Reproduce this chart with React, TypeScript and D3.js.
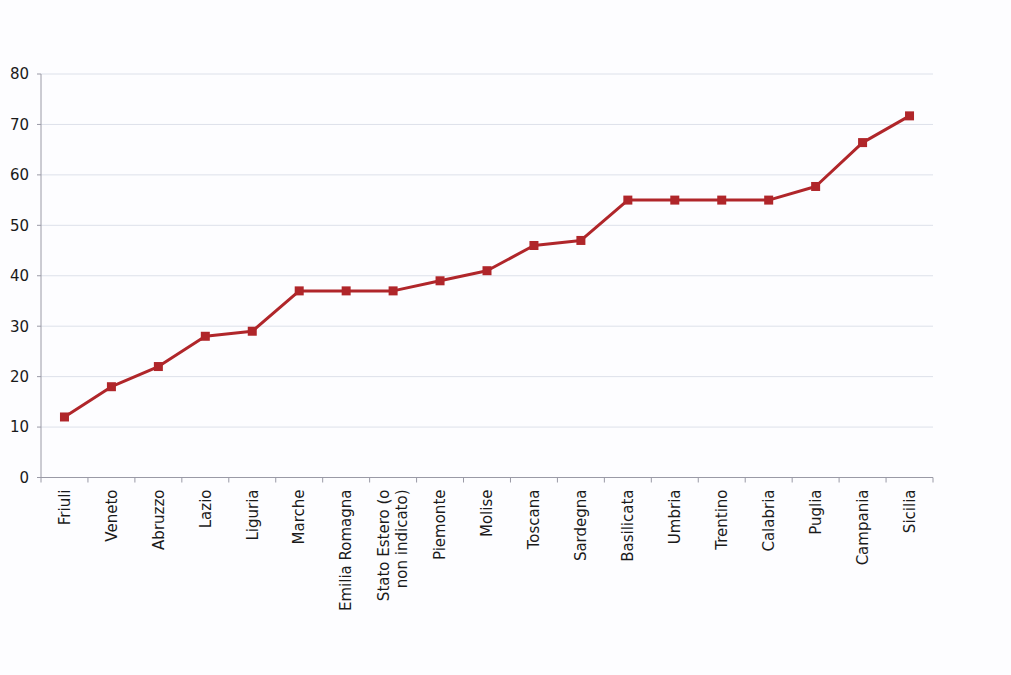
import React from "react";
import * as d3 from "d3";

const categories = [
  "Friuli", "Veneto", "Abruzzo", "Lazio", "Liguria", "Marche", "Emilia Romagna",
  "Stato Estero (o\nnon indicato)", "Piemonte", "Molise", "Toscana", "Sardegna",
  "Basilicata", "Umbria", "Trentino", "Calabria", "Puglia", "Campania", "Sicilia",
];
const values = [12, 18, 22, 28, 29, 37, 37, 37, 39, 41, 46, 47, 55, 55, 55, 55, 57.7, 66.4, 71.7];
const yTicks = [0, 10, 20, 30, 40, 50, 60, 70, 80];

export default function App() {
  const W = 1011, H = 675;
  const left = 41, right = 933, top = 74, bottom = 477.5;
  const x = d3.scaleBand<number>().domain(d3.range(categories.length)).range([left, right]);
  const y = d3.scaleLinear().domain([0, 80]).range([bottom, top]);
  const cx = (i: number) => (x(i) as number) + x.bandwidth() / 2;
  const line = d3.line<number>().x((_, i) => cx(i)).y((v) => y(v));
  const font = "'DejaVu Sans', Verdana, sans-serif";
  const boundaries = d3.range(categories.length + 1).map((k) => left + k * x.bandwidth());
  return (
    <svg width={W} height={H} style={{ position: "absolute", left: 0, top: 0, background: "#fff" }}>
      <rect width={W} height={H} fill="#fdfdff" />
      {yTicks.map((t) => (
        <g key={t}>
          {t > 0 && <line x1={left} x2={right} y1={y(t)} y2={y(t)} stroke="#dde1ea" strokeWidth={1} />}
          <line x1={left - 4} x2={left} y1={y(t)} y2={y(t)} stroke="#9a9aa6" />
          <text x={29} y={y(t)} dy="0.36em" textAnchor="end" fontFamily={font} fontSize={15} fill="#1a1a1a">{t}</text>
        </g>
      ))}
      <line x1={left} x2={left} y1={top} y2={bottom} stroke="#9a9aa6" />
      <line x1={left} x2={right} y1={bottom} y2={bottom} stroke="#9a9aa6" />
      {boundaries.map((b, k) => (
        <line key={k} x1={b} x2={b} y1={bottom} y2={bottom + 5} stroke="#9a9aa6" />
      ))}
      {categories.map((c, i) => {
        const lines = c.split("\n");
        const px = cx(i);
        const py = bottom + 12;
        return (
          <text key={i} transform={`translate(${px},${py}) rotate(-90)`} textAnchor="end" fontFamily={font} fontSize={15} fill="#1a1a1a">
            {lines.map((l, j) => (
              <tspan key={j} x={0} dy={j === 0 ? (lines.length === 1 ? "0.35em" : "-0.25em") : "1.2em"}>{l}</tspan>
            ))}
          </text>
        );
      })}
      <path d={line(values) || ""} fill="none" stroke="#b0262a" strokeWidth={3} strokeLinejoin="round" />
      {values.map((v, i) => (
        <rect key={i} x={cx(i) - 4.5} y={y(v) - 4.5} width={9} height={9} fill="#b0262a" />
      ))}
    </svg>
  );
}
